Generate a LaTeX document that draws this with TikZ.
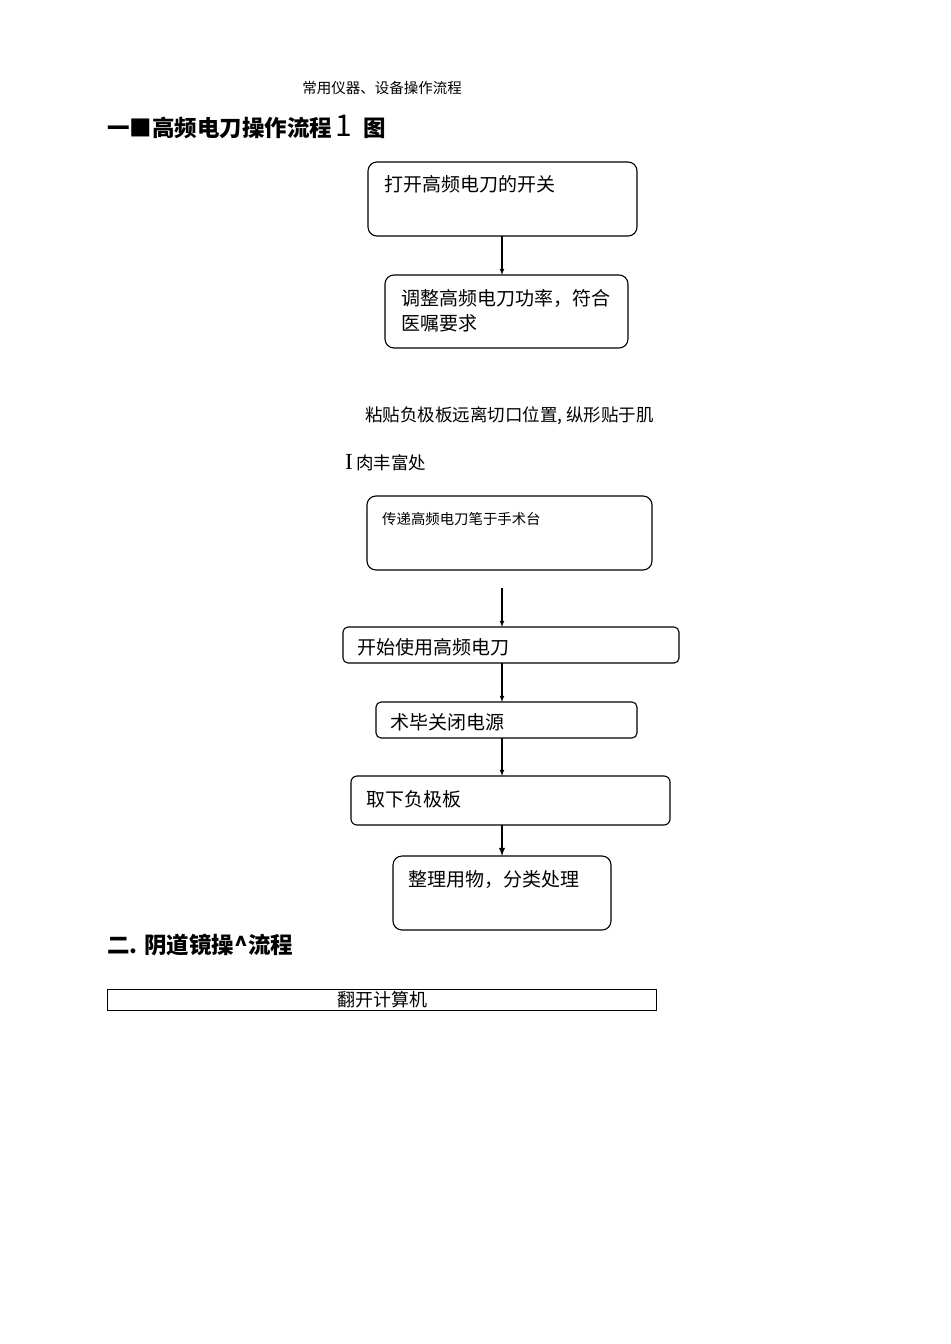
\documentclass[tikz,border=0pt]{standalone}
\usepackage{fontspec}
\setmainfont{Noto Sans CJK SC}
\newfontfamily\serifI{Liberation Serif}
\begin{document}
\begin{tikzpicture}[x=1bp,y=-1bp,
  rbox/.style={draw,line width=1.1bp,rounded corners=9bp},
  lbl/.style={anchor=west,inner sep=0pt},
  arr/.style={-latex,line width=1.1bp}]
\useasboundingbox (0,0) rectangle (950,1344);
\node[inner sep=0] (hdr) at (382,88) {\fontsize{14.5bp}{16bp}\selectfont 常用仪器、设备操作流程};
\node[lbl] (t1) at (107,127) {\fontsize{22.5bp}{24bp}\selectfont\bfseries 一■高频电刀操作流程\,\textmd{\fontsize{30bp}{30bp}\selectfont 1}\,\,\,图};
% boxes
\draw[rbox] (368,162) rectangle (637,236); \coordinate (b1t) at (502,236);
\node[lbl] (x1) at (384,184) {\fontsize{19bp}{20bp}\selectfont 打开高频电刀的开关};
\draw[rbox] (385,275) rectangle (628,348); \coordinate (b2t) at (502,275);
\node[lbl] (x2a) at (401,298) {\fontsize{19bp}{20bp}\selectfont 调整高频电刀功率，符合};
\node[lbl] (x2b) at (401,323) {\fontsize{19bp}{20bp}\selectfont 医嘱要求};
\draw[arr] (b1t) -- (b2t);
\node[lbl] (p1) at (365,416) {\fontsize{17.5bp}{18bp}\selectfont 粘贴负极板远离切口位置, 纵形贴于肌};
\node[lbl] (p2) at (345,463) {{\serifI\fontsize{23bp}{22bp}\selectfont I}\,\,\fontsize{17.5bp}{18bp}\selectfont 肉丰富处};
\draw[rbox] (367,496) rectangle (652,570);
\node[lbl] (x3) at (382,519) {\fontsize{14.4bp}{16bp}\selectfont 传递高频电刀笔于手术台};
\coordinate (a0) at (502,588); \coordinate (b4t) at (502,627);
\draw[arr] (a0) -- (b4t);
\draw[rbox,rounded corners=5bp] (343,627) rectangle (679,663);
\node[lbl] (x4) at (357,647) {\fontsize{19bp}{20bp}\selectfont 开始使用高频电刀};
\coordinate (b4b) at (502,663); \coordinate (b5t) at (502,702);
\draw[arr] (b4b) -- (b5t);
\draw[rbox,rounded corners=5bp] (376,702) rectangle (637,738);
\node[lbl] (x5) at (390,722) {\fontsize{19bp}{20bp}\selectfont 术毕关闭电源};
\coordinate (b5b) at (502,738); \coordinate (b6t) at (502,776);
\draw[arr] (b5b) -- (b6t);
\draw[rbox,rounded corners=6bp] (351,776) rectangle (670,825);
\node[lbl] (x6) at (366,799) {\fontsize{19bp}{20bp}\selectfont 取下负极板};
\coordinate (b6b) at (502,825); \coordinate (b7t) at (502,856);
\draw[arr,line width=1.8bp] (b6b) -- (b7t);
\draw[rbox] (393,856) rectangle (611,930);
\node[lbl] (x7) at (408,880) {\fontsize{19bp}{20bp}\selectfont 整理用物，分类处理};
\node[lbl] (t2) at (107,945) {\fontsize{22.5bp}{24bp}\selectfont\bfseries 二. 阴道镜操\textasciicircum 流程};
\draw[line width=0.8bp] (107,989) rectangle (656,1010);
\node[inner sep=0] (x8) at (382,1000) {\fontsize{18bp}{20bp}\selectfont 翻开计算机};
\end{tikzpicture}
\end{document}
